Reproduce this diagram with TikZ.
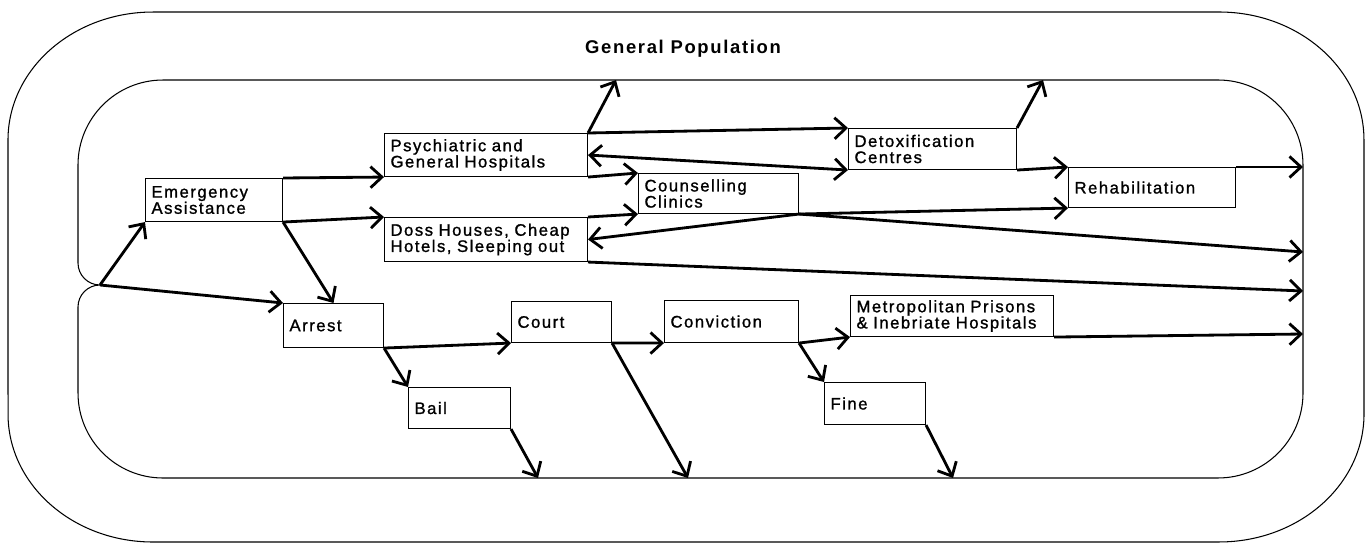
\documentclass[tikz,border=0pt]{standalone}
\usepackage{fontspec}
\newfontfamily\boxfont[LetterSpace=9, FakeBold=1.2]{Liberation Sans}
\newfontfamily\headfont[LetterSpace=9]{Liberation Sans}
\usetikzlibrary{arrows.meta}
\tikzset{
  stage/.style={draw, line width=0.6pt, anchor=north west, inner xsep=0.12cm, inner ysep=0pt,
    align=left, font=\boxfont\fontsize{9.5}{9.2}\selectfont},
  flow/.style={line width=1.6pt, -{Straight Barb[length=6.5pt,width=12pt]}},
  twoway/.style={line width=1.6pt, {Straight Barb[length=6.5pt,width=12pt]}-{Straight Barb[length=6.5pt,width=12pt]}},
  ring/.style={line width=0.6pt}
}
\begin{document}
\begin{tikzpicture}[x=0.02cm, y=-0.02cm]
\useasboundingbox (0,0) rectangle (1366,551);
% outer ring
\draw[ring] (153,12) -- (1219,12) arc[start angle=90, end angle=0, x radius=2.9cm, y radius=2.56cm]
  -- (1364,414) arc[start angle=0, end angle=-90, x radius=2.9cm, y radius=2.56cm]
  -- (153,542) arc[start angle=-90, end angle=-180, x radius=2.9cm, y radius=2.56cm]
  -- (8,140) arc[start angle=180, end angle=90, x radius=2.9cm, y radius=2.56cm] -- cycle;
% inner ring with the entry point on the left
\coordinate (notch) at (100,285);
\draw[ring] (notch) arc[start angle=270, end angle=180, radius=0.44cm]
  -- (78,165) arc[start angle=180, end angle=90, radius=1.7cm]
  -- (1218,80) arc[start angle=90, end angle=0, radius=1.7cm]
  -- (1303,393) arc[start angle=0, end angle=-90, radius=1.7cm]
  -- (163,478) arc[start angle=-90, end angle=-180, radius=1.7cm]
  -- (78,307) arc[start angle=180, end angle=90, radius=0.44cm];

\node[font=\headfont\bfseries\fontsize{10.5}{12}\selectfont] (title) at (683,49) {General Population};

\node[stage, text width=2.50cm, minimum height=0.86cm] (emerg) at (145,178) {Emergency\\Assistance};
\node[stage, text width=3.82cm, minimum height=0.86cm] (psych) at (384,133) {Psychiatric and\\General Hospitals};
\node[stage, text width=3.82cm, minimum height=0.88cm] (doss) at (384,217) {Doss Houses, Cheap\\Hotels, Sleeping out};
\node[stage, text width=2.96cm, minimum height=0.80cm] (couns) at (638,173) {Counselling\\Clinics};
\node[stage, text width=3.12cm, minimum height=0.82cm] (detox) at (848,128) {Detoxification\\Centres};
\node[stage, text width=3.10cm, minimum height=0.80cm] (rehab) at (1068,167) {Rehabilitation};
\node[stage, text width=1.76cm, minimum height=0.88cm] (arrest) at (283,303) {Arrest};
\node[stage, text width=1.76cm, minimum height=0.82cm] (court) at (511,301) {Court};
\node[stage, text width=2.44cm, minimum height=0.84cm] (conv) at (664,300) {Conviction};
\node[stage, text width=3.82cm, minimum height=0.82cm] (metro) at (850,295) {Metropolitan Prisons\\\& Inebriate Hospitals};
\node[stage, text width=1.80cm, minimum height=0.82cm] (bail) at (408,387) {Bail};
\node[stage, text width=1.78cm, minimum height=0.84cm] (fine) at (824,382) {Fine};

% free ends on the inner ring
\coordinate (psychtop) at (616,80);
\coordinate (detoxtop) at (1043,80);
\coordinate (rehabout) at (1303,167);
\coordinate (counsout) at (1303,252);
\coordinate (dossout) at (1303,291);
\coordinate (metroout) at (1303,334);
\coordinate (bailout) at (538,478);
\coordinate (courtout) at (688,478);
\coordinate (fineout) at (953,478);

\draw[flow] (notch) -- (emerg.south west);
\draw[flow] (notch) -- (arrest.north west);
\draw[flow] (emerg.north east) -- (psych.south west);
\draw[flow] (emerg.south east) -- (doss.north west);
\draw[flow] (emerg.south east) -- (arrest.north);
\draw[flow] (psych.north east) -- (psychtop);
\draw[flow] (psych.north east) -- (detox.north west);
\draw[twoway] (psych.east) -- (detox.south west);
\draw[flow] (psych.south east) -- (couns.north west);
\draw[flow] (doss.north east) -- (couns.south west);
\draw[flow] (couns.south east) -- (doss.east);
\draw[flow] (couns.south east) -- (rehab.south west);
\draw[flow] (couns.south east) -- (counsout);
\draw[flow] (doss.south east) -- (dossout);
\draw[flow] (detox.north east) -- (detoxtop);
\draw[flow] (detox.south east) -- (rehab.north west);
\draw[flow] (rehab.north east) -- (rehabout);
\draw[flow] (arrest.south east) -- (court.south west);
\draw[flow] (arrest.south east) -- (bail.north west);
\draw[flow] (bail.south east) -- (bailout);
\draw[flow] (court.south east) -- (conv.south west);
\draw[flow] (court.south east) -- (courtout);
\draw[flow] (conv.south east) -- (metro.south west);
\draw[flow] (conv.south east) -- (fine.north west);
\draw[flow] (fine.south east) -- (fineout);
\draw[flow] (metro.south east) -- (metroout);
\end{tikzpicture}
\end{document}
